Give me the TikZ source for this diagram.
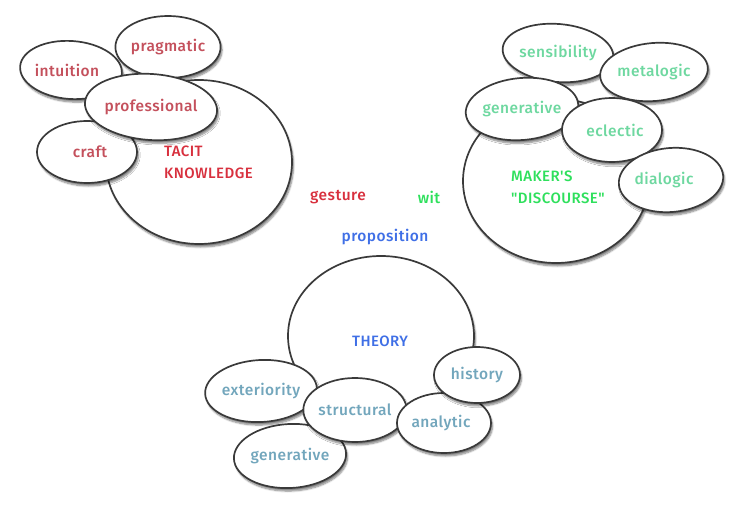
\documentclass[tikz,border=0pt]{standalone}
\usepackage{fontspec}
\newfontfamily\chalk{Fira Sans}[UprightFont={* Medium}, Ligatures=TeXOff, LetterSpace=3]
\usetikzlibrary{shapes.geometric,shadows.blur}
\definecolor{tred}{HTML}{C4505C}
\definecolor{tredd}{HTML}{D8303E}
\definecolor{mgreen}{HTML}{6ED8A0}
\definecolor{mgreend}{HTML}{2EE05C}
\definecolor{tblue}{HTML}{3F6FE6}
\definecolor{tteal}{HTML}{72A6BC}
\definecolor{edge}{HTML}{3A3A3A}
\tikzset{
  bub/.style={ellipse, draw=edge, line width=1.7pt, fill=white, inner sep=0pt,
    blur shadow={shadow blur steps=6, shadow xshift=1.5pt, shadow yshift=-3pt, shadow opacity=50},
    font=\chalk\fontsize{15.5}{17}\selectfont},
  lbl/.style={font=\chalk\fontsize{15.5}{17}\selectfont, inner sep=0pt},
  big/.style={font=\chalk\fontsize{15}{22}\selectfont, inner sep=0pt, align=left}
}
\begin{document}
\begin{tikzpicture}[x=1pt,y=-1pt]
\useasboundingbox (0,0) rectangle (740,513);
% top-left group
\node[bub, minimum width=186pt, minimum height=164pt] (tacit) at (199,162) {};
\node[bub, minimum width=102pt, minimum height=58pt, rotate=-4, text=tred] (intuition) at (71,70) {\rotatebox{4}{\hspace*{-8pt}intuition}};
\node[bub, minimum width=100pt, minimum height=62pt, text=tred] (pragmatic) at (168,47) {pragmatic};
\node[bub, minimum width=100pt, minimum height=62pt, text=tred] (craft) at (87,152) {\hspace*{6pt}craft};
\node[bub, minimum width=126pt, minimum height=66pt, rotate=-4, text=tred] (professional) at (151,107) {\rotatebox{4}{professional}};
\node[big, text=tredd, anchor=west] (tacitt) at (164,162) {TACIT\\KNOWLEDGE};
% top-right group
\node[bub, minimum width=186pt, minimum height=164pt] (maker) at (556,181) {};
\node[bub, minimum width=106pt, minimum height=58pt, rotate=-5, text=mgreen] (sensibility) at (558,53) {\rotatebox{5}{sensibility}};
\node[bub, minimum width=108pt, minimum height=58pt, rotate=5, text=mgreen] (metalogic) at (654,72) {\rotatebox{-5}{metalogic}};
\node[bub, minimum width=108pt, minimum height=62pt, rotate=5, text=mgreen] (generative) at (522,109) {\rotatebox{-5}{generative}};
\node[bub, minimum width=100pt, minimum height=64pt, text=mgreen] (eclectic) at (612,130) {\hspace*{6pt}eclectic};
\node[bub, minimum width=98pt, minimum height=64pt, rotate=5, text=mgreen] (dialogic) at (671,180) {\rotatebox{-5}{dialogic\hspace*{14pt}}};
\node[big, text=mgreend, anchor=west] (makert) at (511,187) {MAKER'S\\"DISCOURSE"};
% middle words
\node[lbl, text=tredd] (gesture) at (338,197) {gesture};
\node[lbl, text=mgreend] (wit) at (429,197) {wit};
\node[lbl, text=tblue] (proposition) at (385,237) {proposition};
% bottom group
\node[bub, minimum width=186pt, minimum height=160pt] (theory) at (381,336) {};
\node[big, text=tblue] (theoryt) at (380,341) {THEORY};
\node[bub, minimum width=108pt, minimum height=62pt, rotate=3, text=tteal] (exteriority) at (261,391) {\rotatebox{-3}{exteriority}};
\node[bub, minimum width=108pt, minimum height=64pt, rotate=3, text=tteal] (generative2) at (290,456) {\rotatebox{-3}{generative}};
\node[bub, minimum width=98pt, minimum height=64pt, text=tteal] (structural) at (355,410) {structural};
\node[bub, minimum width=94pt, minimum height=60pt, text=tteal] (analytic) at (444,423) {\hspace*{-6pt}analytic};
\node[bub, minimum width=86pt, minimum height=56pt, text=tteal] (history) at (477,375) {history};
\end{tikzpicture}
\end{document}
